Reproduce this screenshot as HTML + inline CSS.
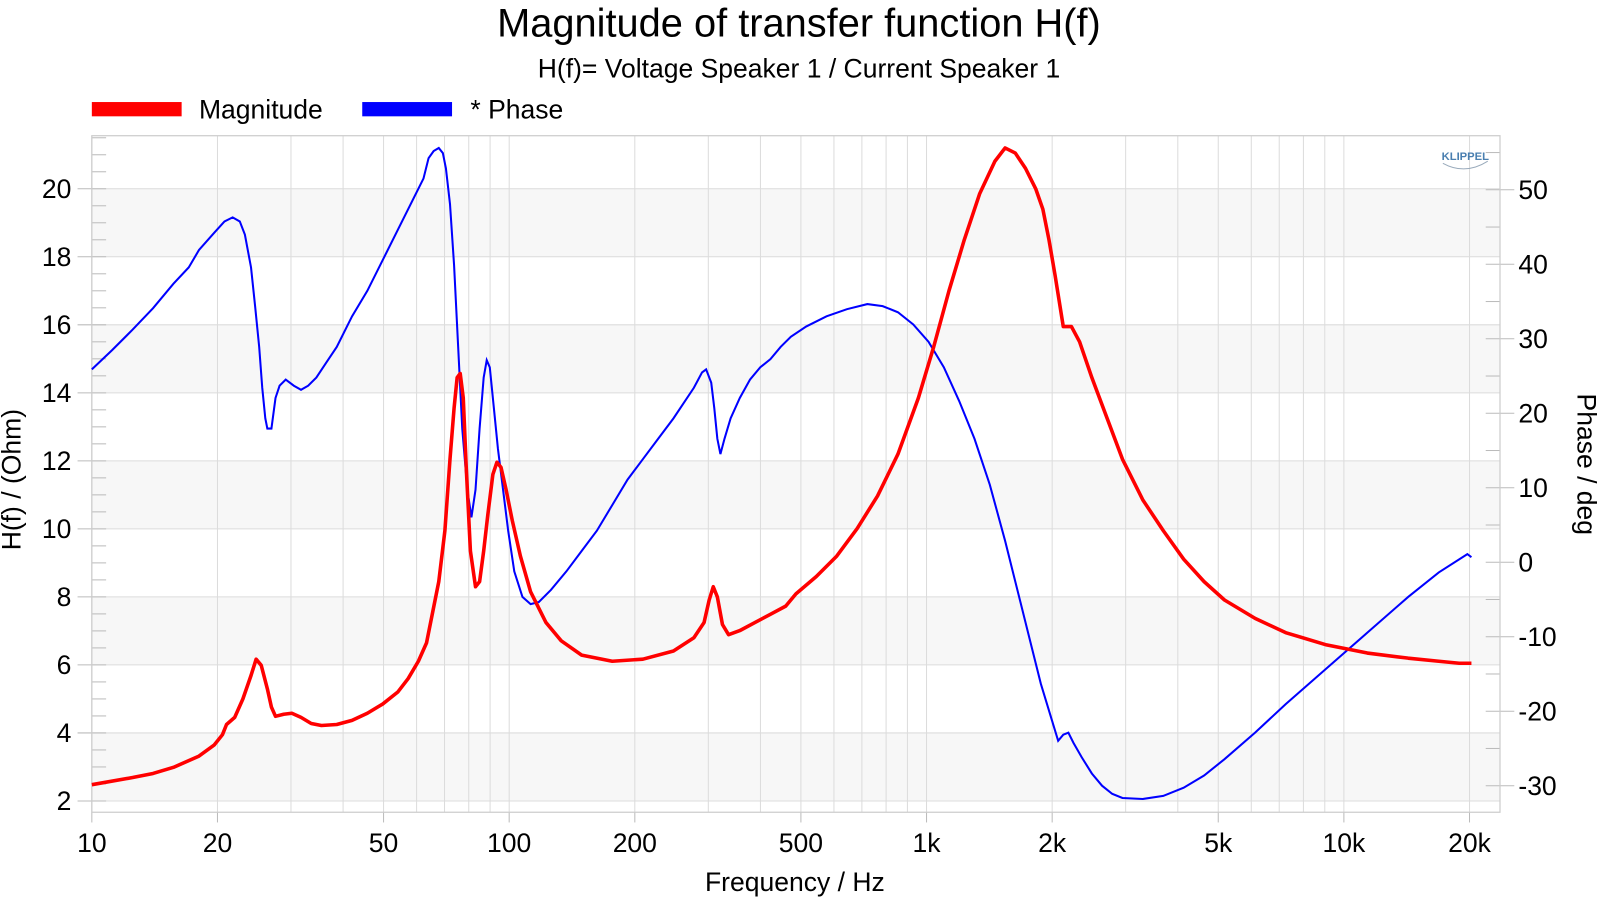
<!DOCTYPE html>
<html><head><meta charset="utf-8"><style>
html,body{margin:0;padding:0;background:#fff;}
svg{display:block;font-family:"Liberation Sans",Arial,sans-serif;}
</style></head><body>
<svg id="s" width="1600" height="900" viewBox="0 0 1568 882" xmlns="http://www.w3.org/2000/svg">
<g id="bands"></g>
<g id="grid" stroke="#dcdcdc" stroke-width="1"></g>
<g id="ticks" stroke="#bbb" stroke-width="1"></g>
<rect x="90" y="133" width="1380" height="663" fill="none" stroke="#ccc" stroke-width="1.2"/>
<text x="783" y="36" font-size="39" text-anchor="middle">Magnitude of transfer function H(f)</text>
<text x="783" y="76" font-size="26" text-anchor="middle">H(f)= Voltage Speaker 1 / Current Speaker 1</text>
<rect x="90" y="100" width="88" height="14" fill="#f00"/>
<text x="195" y="116" font-size="26">Magnitude</text>
<rect x="355" y="100" width="88" height="14" fill="#00f"/>
<text x="461" y="116" font-size="26">* Phase</text>
<text x="1436" y="157" font-size="11" font-weight="bold" fill="#4a7fb0" text-anchor="middle">KLIPPEL</text>
<path d="M1414 160 Q1436 172 1458 158" fill="none" stroke="#9ab" stroke-width="1"/>
<text transform="translate(20,470) rotate(-90)" font-size="26" text-anchor="middle">H(f) / (Ohm)</text>
<text transform="translate(1546,455) rotate(90)" font-size="26" text-anchor="middle">Phase / deg</text>
<text x="779" y="873" font-size="26" text-anchor="middle">Frequency / Hz</text>
<g id="labels" font-size="26"></g>
<polyline id="blue" fill="none" stroke="#00f" stroke-width="2" points="90,362 110,343 130,323 150,302 170,278 185,262 195,245 210,228 220,217 228,213 235,217 240,230 246,262 250,300 254,340 257,380 260,410 262,420 266,420 270,390 274,378 280,372 288,378 295,382 302,378 310,370 320,355 330,340 345,310 360,285 375,255 390,225 405,195 415,175 420,155 425,148 430,145 434,150 437,165 441,200 445,260 449,340 453,420 458,480 462,507 466,480 470,420 474,370 477,353 480,360 484,400 488,440 493,480 498,520 504,560 512,585 520,592 528,590 540,578 555,560 570,540 585,520 600,495 615,470 630,450 645,430 660,410 670,395 680,380 688,365 692,362 697,375 700,400 703,430 706,445 710,430 716,410 725,390 735,372 745,360 755,352 765,340 775,330 790,320 810,310 830,303 850,298 865,300 880,306 895,318 910,335 925,360 940,393 955,430 970,475 985,530 1000,590 1010,630 1020,670 1030,703 1037,726 1042,720 1047,718 1052,728 1060,742 1070,758 1080,770 1090,778 1100,782 1120,783 1140,780 1160,772 1180,760 1200,744 1230,718 1260,690 1300,655 1340,620 1380,585 1410,561 1438,543 1442,546"/>
<polyline id="red" fill="none" stroke="#f00" stroke-width="3.5" stroke-linejoin="round" points="90,769 130,762 150,758 170,752 195,741 210,730 218,720 222,710 230,703 238,685 246,662 251,646 256,652 262,675 266,693 270,702 278,700 286,699 295,703 305,709 315,711 330,710 345,706 360,699 375,690 390,678 400,665 410,648 418,630 424,600 430,570 436,520 441,450 445,400 448,370 451,366 454,390 457,460 461,540 466,575 470,570 474,540 478,505 483,465 487,453 491,458 496,480 502,510 510,545 520,580 535,610 550,628 570,642 600,648 630,646 660,638 680,625 690,610 695,588 699,575 703,585 708,612 714,622 725,618 740,610 755,602 770,594 780,582 800,565 820,545 840,518 860,486 880,445 900,390 915,340 930,285 945,235 960,190 975,158 985,145 995,150 1005,165 1015,185 1022,205 1028,235 1034,270 1038,295 1042,320 1050,320 1058,335 1070,370 1085,410 1100,450 1120,490 1140,520 1160,548 1180,570 1200,588 1230,606 1260,620 1300,632 1340,640 1380,645 1410,648 1430,650 1442,650"/>
</svg>
<script>
(function(){
var NS="http://www.w3.org/2000/svg";
function el(p,t,a,txt){var e=document.createElementNS(NS,t);for(var k in a)e.setAttribute(k,a[k]);if(txt)e.textContent=txt;document.getElementById(p).appendChild(e);return e;}
var L=90,R=1470,T=133,B=796,D=409;
function X(f){return L+Math.log10(f/10)*D;}
function Y(o){return 185+(20-o)*33.33;}
function P(d){return 551-d*7.3;}
for(var o=2;o<=18;o+=4){el("bands","rect",{x:L,y:Y(o+2),width:R-L,height:Y(o)-Y(o+2),fill:"#f7f7f7"});}
var decs=[10,100,1000,10000];
decs.forEach(function(d){for(var m=1;m<10;m++){var f=d*m;if(f>20000)return;var x=X(f);el("grid","line",{x1:x,y1:T,x2:x,y2:B});}});
el("grid","line",{x1:X(20000),y1:T,x2:X(20000),y2:B});
for(var o=2;o<=20;o+=2){el("grid","line",{x1:L,y1:Y(o),x2:R,y2:Y(o)});}
for(var o=2;o<=21.5;o+=0.5){var y=Y(o);var maj=(o%2===0);el("ticks","line",{x1:maj?76:L,y1:y,x2:L+14,y2:y});}
for(var d=-30;d<=55;d+=5){var y=P(d);if(y<T||y>B)continue;var maj=(d%10===0);el("ticks","line",{x1:R-14,y1:y,x2:maj?R+14:R,y2:y});}
[10,20,50,100,200,500,1000,2000,5000,10000,20000].forEach(function(f){var x=X(f);el("ticks","line",{x1:x,y1:B,x2:x,y2:B+10});});
for(var o=2;o<=20;o+=2){el("labels","text",{x:70,y:Y(o)+9,"text-anchor":"end"},String(o));}
for(var d=-30;d<=50;d+=10){el("labels","text",{x:1488,y:P(d)+9},String(d));}
var lab={10:"10",20:"20",50:"50",100:"100",200:"200",500:"500",1000:"1k",2000:"2k",5000:"5k",10000:"10k",20000:"20k"};
for(var f in lab){el("labels","text",{x:X(+f),y:835,"text-anchor":"middle"},lab[f]);}
})();
</script>
</body></html>
